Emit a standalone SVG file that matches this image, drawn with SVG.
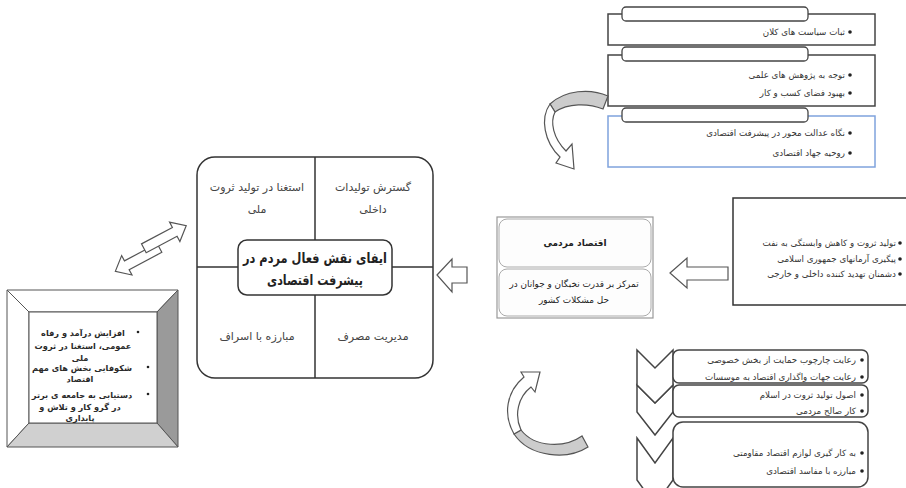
<svg xmlns="http://www.w3.org/2000/svg" width="906" height="488" viewBox="0 0 906 488">
<style>
text{font-family:"DejaVu Sans","Noto Sans",sans-serif;fill:#333}
.s{font-size:8.7px}
.r{text-anchor:end}
.c{text-anchor:middle}
.box{fill:#fff;stroke:#444;stroke-width:1.5}
.tab{fill:#fff;stroke:#444;stroke-width:1.3}
.blt{fill:#222}
.ln{stroke:#333;stroke-width:1.5;fill:none}
.arr{fill:#fff;stroke:#555;stroke-width:1.2}
.band{fill:#cccccc;stroke:#555;stroke-width:1.2}
.q{font-size:11px;fill:#444}
.lt{font-size:8.2px;font-weight:bold;fill:#2a2a2a}
.ttl{font-size:14px;font-weight:bold;fill:#222}
.mb{font-size:8.9px;fill:#222}
</style>

<g id="policy-boxes">
  <rect class="box" x="608" y="14" width="267" height="31"/>
  <rect class="tab" x="622" y="7" width="186" height="14" rx="4"/>
  <circle class="blt" cx="850" cy="32" r="1.8"/>
  <text class="s r" x="845" y="35">ثبات سیاست های کلان</text>

  <rect class="box" x="608" y="55" width="267" height="51"/>
  <rect class="tab" x="622" y="47" width="186" height="14" rx="4"/>
  <circle class="blt" cx="850" cy="75" r="1.8"/>
  <text class="s r" x="845" y="78">توجه به پژوهش های علمی</text>
  <circle class="blt" cx="850" cy="93" r="1.8"/>
  <text class="s r" x="845" y="96">بهبود فضای کسب و کار</text>

  <rect x="608" y="116" width="267" height="51" fill="#fff" stroke="#7fa3dd" stroke-width="1.5"/>
  <rect class="tab" x="622" y="108" width="186" height="14" rx="4"/>
  <circle class="blt" cx="850" cy="133" r="1.8"/>
  <text class="s r" x="845" y="136">نگاه عدالت محور در پیشرفت اقتصادی</text>
  <circle class="blt" cx="850" cy="153" r="1.8"/>
  <text class="s r" x="845" y="156">روحیه جهاد اقتصادی</text>
</g>

<g id="center-node">
  <rect x="197" y="157" width="236" height="221" rx="18" fill="#fff" stroke="#333" stroke-width="1.5"/>
  <line class="ln" x1="315" y1="157" x2="315" y2="378"/>
  <line class="ln" x1="197" y1="267" x2="433" y2="267"/>
  <text class="q c" x="373" y="191">گسترش تولیدات</text>
  <text class="q c" x="373" y="213">داخلی</text>
  <text class="q c" x="257" y="191">استغنا در تولید ثروت</text>
  <text class="q c" x="257" y="213">ملی</text>
  <text class="q c" x="257" y="340">مبارزه با اسراف</text>
  <text class="q c" x="373" y="340">مدیریت مصرف</text>
  <rect x="238" y="240" width="154" height="55" rx="9" fill="#fff" stroke="#333" stroke-width="1.5"/>
  <text class="ttl c" x="315" y="263" textLength="144" lengthAdjust="spacingAndGlyphs">ایفای نقش فعال مردم در</text>
  <text class="ttl c" x="315" y="285" textLength="96" lengthAdjust="spacingAndGlyphs">پیشرفت اقتصادی</text>
</g>

<g id="goals-node">
  <polygon points="7,290 178,290 157,312 29,312" fill="#fff" stroke="#555"/>
  <polygon points="7,290 29,312 29,423 7,447" fill="#fff" stroke="#555"/>
  <polygon points="178,290 178,447 157,423 157,312" fill="#9a9a9a" stroke="#555"/>
  <polygon points="7,447 178,447 157,423 29,423" fill="#d0d0d0" stroke="#555"/>
  <rect x="29" y="312" width="128" height="111" fill="#fff" stroke="#555"/>
  <circle class="blt" cx="138" cy="332" r="1.3"/>
  <circle class="blt" cx="148" cy="367" r="1.3"/>
  <circle class="blt" cx="148" cy="394" r="1.3"/>
  <text class="lt c" x="83" y="336">افزایش درآمد و رفاه</text>
  <text class="lt c" x="83" y="349">عمومی، استغنا در ثروت</text>
  <text class="lt c" x="80" y="361">ملی</text>
  <text class="lt c" x="82" y="371">شکوفایی بخش های مهم</text>
  <text class="lt c" x="80" y="382">اقتصاد</text>
  <text class="lt c" x="82" y="398">دستیابی به جامعه ی برتر</text>
  <text class="lt c" x="80" y="410">در گرو کار و تلاش و</text>
  <text class="lt c" x="80" y="421">پایداری</text>
</g>

<g id="people-economy-node">
  <rect x="497" y="217" width="156" height="101" fill="#fff" stroke="#999" stroke-width="1.2"/>
  <rect x="499" y="219" width="152" height="48" rx="8" fill="#fdfdfd" stroke="#aaa"/>
  <rect x="499" y="269" width="152" height="47" rx="8" fill="#fdfdfd" stroke="#aaa"/>
  <text class="c" x="575" y="246" style="font-size:9px;font-weight:bold;fill:#222">اقتصاد مردمی</text>
  <text class="mb c" x="574" y="287">تمرکز بر قدرت نخبگان و جوانان در</text>
  <text class="mb c" x="574" y="303">حل مشکلات کشور</text>
</g>

<g id="reasons-node">
  <rect x="733" y="198" width="180" height="107" fill="#fff" stroke="#333" stroke-width="1.5"/>
  <circle class="blt" cx="900" cy="243" r="1.8"/>
  <text class="s r" x="896" y="246">تولید ثروت و کاهش وابستگی به نفت</text>
  <circle class="blt" cx="900" cy="259" r="1.8"/>
  <text class="s r" x="896" y="262">پیگیری آرمانهای جمهوری اسلامی</text>
  <circle class="blt" cx="900" cy="274" r="1.8"/>
  <text class="s r" x="896" y="277">دشمنان تهدید کننده داخلی و خارجی</text>
</g>

<g id="principles-node">
  <polygon points="637,438 655,463 673,438 673,480 655,505 637,480" fill="#fff" stroke="#444" stroke-width="1.5"/>
  <polygon points="637,385 655,403 673,385 673,412 655,435 637,412" fill="#fff" stroke="#444" stroke-width="1.5"/>
  <polygon points="637,350 655,368 673,350 673,385 655,403 637,385" fill="#fff" stroke="#444" stroke-width="1.5"/>
  <rect x="673" y="350" width="195" height="33" rx="6" fill="#fff" stroke="#444" stroke-width="1.5"/>
  <circle class="blt" cx="862" cy="360" r="1.8"/>
  <text class="s r" x="856" y="363">رعایت چارچوب حمایت از بخش خصوصی</text>
  <circle class="blt" cx="862" cy="377" r="1.8"/>
  <text class="s r" x="856" y="380">رعایت جهات واگذاری اقتصاد به موسسات</text>
  <rect x="673" y="385" width="195" height="32" rx="6" fill="#fff" stroke="#444" stroke-width="1.5"/>
  <circle class="blt" cx="862" cy="395" r="1.8"/>
  <text class="s r" x="856" y="398">اصول  تولید ثروت در اسلام</text>
  <circle class="blt" cx="862" cy="411" r="1.8"/>
  <text class="s r" x="856" y="414">کار صالح مردمی</text>
  <rect x="673" y="422" width="195" height="65" rx="10" fill="#fff" stroke="#444" stroke-width="1.5"/>
  <circle class="blt" cx="862" cy="453" r="1.8"/>
  <text class="s r" x="856" y="456">به کار گیری لوازم اقتصاد مقاومتی</text>
  <circle class="blt" cx="862" cy="471" r="1.8"/>
  <text class="s r" x="856" y="474">مبارزه با مفاسد اقتصادی</text>
</g>

<g id="connectors">
  <polygon class="arr" points="437,275 452,259 452,267 467,267 467,283 452,283 452,292"/>
  <polygon class="arr" points="670,273 687,258 687,267 728,267 728,280 687,280 687,288"/>
  <g transform="translate(151,249) rotate(-28)">
    <polygon class="arr" points="-42,3 -29,-8 -29,-2 8,-2 8,8 -29,8 -29,14"/>
    <polygon class="arr" points="-6,-9 29,-9 29,-15 42,-4 29,7 29,1 -6,1"/>
  </g>
  <path class="band" d="M608,96 C590,88 565,90 550,104 L555,112 C568,103 588,103 603,109 Z"/>
  <path class="arr" d="M550,104 C540,118 544,142 560,157 L556,163 L574,169 L572,144 L566,151 C553,138 550,122 555,112 Z"/>
  <path class="band" d="M588,447 C568,460 530,458 514,434 L521,430 C535,448 565,448 582,436 Z"/>
  <path class="arr" d="M514,434 C503,415 506,392 524,377 L521,372 L540,372 L535,392 L531,387 C518,397 514,415 521,430 Z"/>
</g>
</svg>
